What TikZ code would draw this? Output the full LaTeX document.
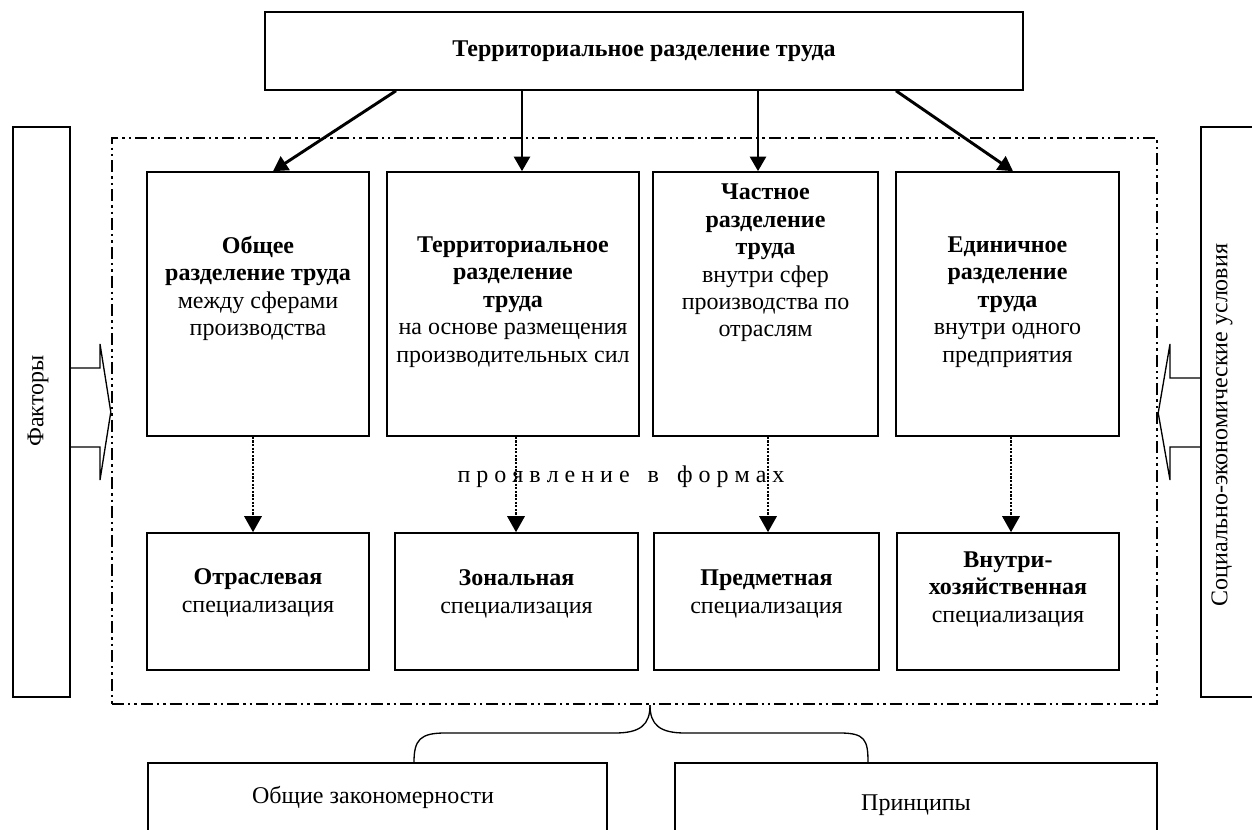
\documentclass[tikz,border=0pt]{standalone}
\usepackage{fontspec}
\setmainfont{Liberation Serif}
\usetikzlibrary{arrows.meta}

\begin{document}
\begin{tikzpicture}[x=0.75pt,y=-0.75pt,
  font=\fontsize{18}{20.6}\selectfont,
  box/.style={draw,line width=1.2pt,inner sep=0pt},
  txt/.style={align=center,inner sep=0pt},
  arr/.style={line width=2.2pt,-{Triangle[length=11pt,width=12pt]}},
  dotarr/.style={line width=1.6pt,dash pattern=on 1.6pt off 1.1pt,-{Triangle[length=12pt,width=13pt]}},
  frm/.style={draw,line width=1.8pt,dash pattern=on 9pt off 3pt on 1.8pt off 3pt on 1.8pt off 3pt,inner sep=0pt},
  barrow/.style={line width=1pt,line join=miter}]
\path[use as bounding box,clip] (0,0) rectangle (1252,830);

% top
\node[box,minimum width=568.5pt,minimum height=58.5pt] (top) at (644,51) {\textbf{Территориальное разделение труда}};

% frame and side boxes
\node[frm,minimum width=783.75pt,minimum height=424.5pt] (frame) at (634.5,421) {};
\node[box,minimum width=42.75pt,minimum height=427.5pt] (fak) at (41.5,412) {};
\node[box,minimum width=48pt,minimum height=427.5pt] (soc) at (1233,412) {};
\node[txt,rotate=90] (tfak) at (38,401) {Факторы};
\node[txt,rotate=90] (tsoc) at (1222,425) {Социально-экономические условия};

% forms of division
\node[box,minimum width=166.5pt,minimum height=198pt] (b1) at (258,304) {};
\node[box,minimum width=189pt,minimum height=198pt] (b2) at (513,304) {};
\node[box,minimum width=168.75pt,minimum height=198pt] (b3) at (765.5,304) {};
\node[box,minimum width=167.25pt,minimum height=198pt] (b4) at (1007.5,304) {};
\node[txt] (t1) at (258,288.5) {\textbf{Общее}\\\textbf{разделение труда}\\между сферами\\производства};
\node[txt] (t2) at (513,302) {\textbf{Территориальное}\\\textbf{разделение}\\\textbf{труда}\\на основе размещения\\производительных сил};
\node[txt] (t3) at (765.5,263) {\textbf{Частное}\\\textbf{разделение}\\\textbf{труда}\\внутри сфер\\производства по\\отраслям};
\node[txt] (t4) at (1007.5,302) {\textbf{Единичное}\\\textbf{разделение}\\\textbf{труда}\\внутри одного\\предприятия};

\node[txt] (mid) at (621,477) {п р о я в л е н и е~~~в~~~ф о р м а х};

% specialisation
\node[box,minimum width=166.5pt,minimum height=102.75pt] (c1) at (258,601.5) {};
\node[box,minimum width=182.25pt,minimum height=102.75pt] (c2) at (516.5,601.5) {};
\node[box,minimum width=168.75pt,minimum height=102.75pt] (c3) at (766.5,601.5) {};
\node[box,minimum width=166.5pt,minimum height=102.75pt] (c4) at (1008,601.5) {};
\node[txt] (s1) at (258,593) {\textbf{Отраслевая}\\специализация};
\node[txt] (s2) at (516.5,594) {\textbf{Зональная}\\специализация};
\node[txt] (s3) at (766.5,594) {\textbf{Предметная}\\специализация};
\node[txt] (s4) at (1008,589) {\textbf{Внутри-}\\\textbf{хозяйственная}\\специализация};

% bottom
\node[box,minimum width=344.25pt,minimum height=65.25pt] (zak) at (377.5,806.5) {};
\node[box,minimum width=361.5pt,minimum height=65.25pt] (prin) at (916,806.5) {};
\node[txt] (tzak) at (373,797) {Общие закономерности};
\node[txt] (tprin) at (916,805) {Принципы};

% arrows
\draw[arr] (top.south -| 396,0) -- (b1.north -| 273,0);
\draw[arr] (top.south -| 522,0) -- (b2.north -| 522,0);
\draw[arr] (top.south -| 758,0) -- (b3.north -| 758,0);
\draw[arr] (top.south -| 896,0) -- (b4.north -| 1013,0);
\draw[dotarr] (b1.south -| 253,0) -- (c1.north -| 253,0);
\draw[dotarr] (b2.south -| 516,0) -- (c2.north -| 516,0);
\draw[dotarr] (b3.south -| 768,0) -- (c3.north -| 768,0);
\draw[dotarr] (b4.south -| 1011,0) -- (c4.north -| 1011,0);

\draw[barrow] (fak.east |- 0,368) -- (100,368) -- (100,344) -- (frame.west |- 0,412) -- (100,480) -- (100,447) -- (fak.east |- 0,447);
\draw[barrow] (soc.west |- 0,378) -- (1170,378) -- (1170,344) -- (frame.east |- 0,413) -- (1170,480) -- (1170,447) -- (soc.west |- 0,447);

% brace
\coordinate (brtip) at (frame.south -| 650,0);
\draw[line width=1pt] (zak.north -| 414,0) .. controls (414,740) and (420,733) .. (445,733) -- (615,733) .. controls (640,733) and (650,725) .. (brtip);
\draw[line width=1pt] (brtip) .. controls (650,725) and (660,733) .. (685,733) -- (840,733) .. controls (865,733) and (868,740) .. (prin.north -| 868,0);
\end{tikzpicture}
\end{document}
